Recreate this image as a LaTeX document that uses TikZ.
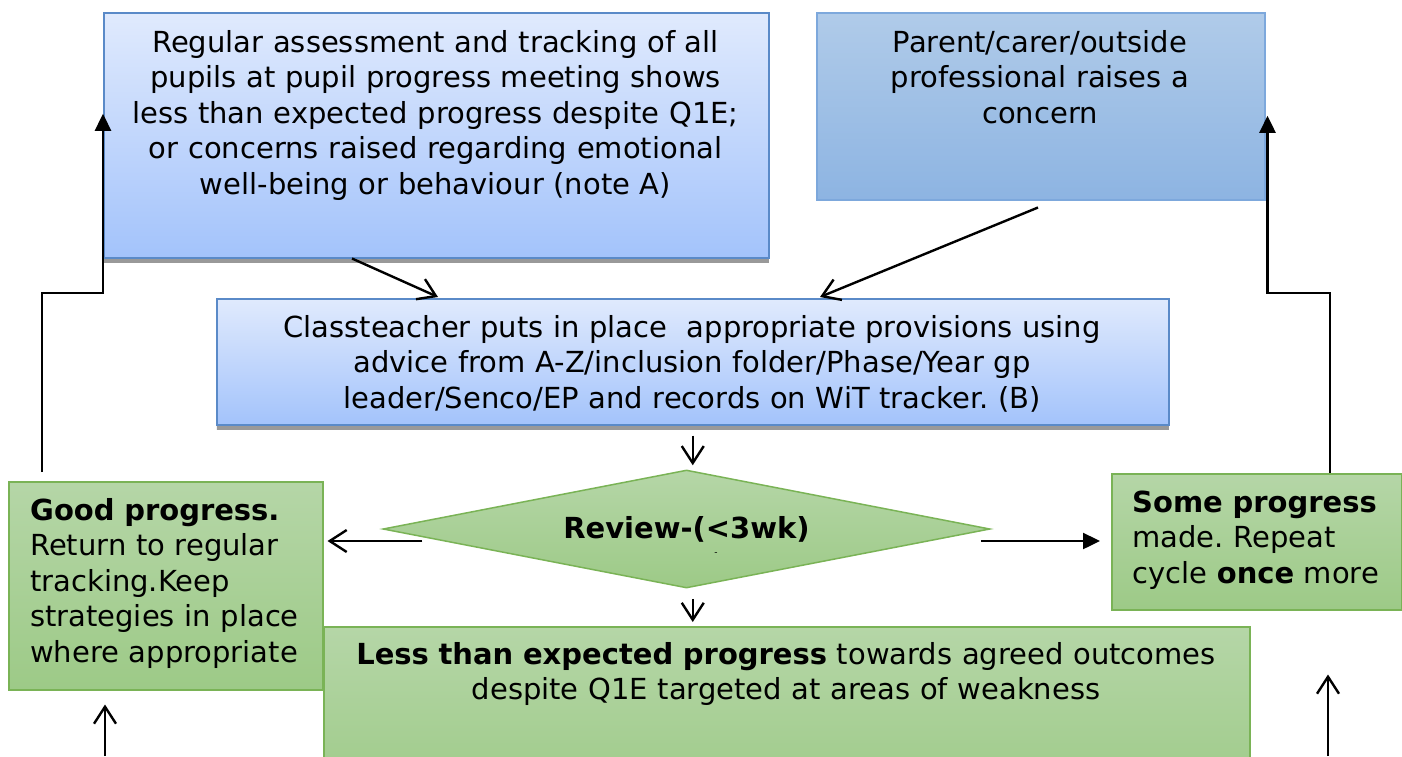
\documentclass[tikz,border=0pt]{standalone}
\usepackage{fontspec}
\setmainfont{DejaVu Sans}
\usetikzlibrary{shapes.geometric,arrows.meta}
\frenchspacing

\definecolor{blueTop}{HTML}{E0EAFD}
\definecolor{blueBot}{HTML}{A3C3FB}
\definecolor{blueLine}{HTML}{5A8AC8}
\definecolor{medTop}{HTML}{B0CBE9}
\definecolor{medBot}{HTML}{8DB4E2}
\definecolor{medLine}{HTML}{7DA8DC}
\definecolor{greenTop}{HTML}{B5D6A7}
\definecolor{greenBot}{HTML}{9DCA87}
\definecolor{greenLine}{HTML}{7AB356}
\definecolor{shadowGray}{HTML}{999999}

\begin{document}
\begin{tikzpicture}[x=1pt,y=-1pt,
  boxbase/.style={rectangle, inner sep=0pt, anchor=north west, line width=1.5pt},
  lightbox/.style={boxbase, draw=blueLine, top color=blueTop, bottom color=blueBot,
     preaction={draw=none, top color=shadowGray, bottom color=shadowGray, transform canvas={yshift=-5pt}}},
  medbox/.style={boxbase, draw=medLine, top color=medTop, bottom color=medBot},
  greenbox/.style={boxbase, draw=greenLine, top color=greenTop, bottom color=greenBot},
  txt/.style={font=\fontsize{29}{35.5}\selectfont, inner sep=0pt, text=black},
  ctxt/.style={txt, align=center, anchor=base},
  ltxt/.style={txt, align=left, anchor=base west},
  conn/.style={line width=2.4pt, draw=black},
  openarr/.style={conn, -{Straight Barb[length=17pt,width=22pt,line width=2.4pt]}},
  filledarr/.style={conn, -{Triangle[length=17pt,width=16pt]}}
]
\useasboundingbox (0,0) rectangle (1402,756);
\clip (0,0) rectangle (1402,756);

% boxes
\node[lightbox, minimum width=665pt, minimum height=245pt] (a) at (103,12) {};
\node[medbox, minimum width=448pt, minimum height=187pt] (b) at (816,12) {};
\node[lightbox, minimum width=952pt, minimum height=126pt] (c) at (216,298) {};
\node[greenbox, minimum width=314pt, minimum height=208pt] (g) at (8,481) {};
\node[greenbox, minimum width=290pt, minimum height=136pt] (s) at (1111,473) {};
\node[greenbox, minimum width=926pt, minimum height=180pt] (l) at (323,626) {};
\node[diamond, draw=greenLine, line width=1.5pt, top color=greenTop, bottom color=greenBot,
      minimum width=607pt, minimum height=118pt, aspect=5.14, inner sep=0pt,
      font=\fontsize{29}{35.5}\selectfont\bfseries] (d) at (686.5,529) {Review-(<3wk)};
\node[font=\fontsize{9}{9}\selectfont, inner sep=0pt] (dash) at (716,554) {-};

% texts
\node[ctxt, text width=700pt] (at) at (435.5,52) {Regular assessment and tracking of all\\
pupils at pupil progress meeting shows\\
less than expected progress despite Q1E;\\
or concerns raised regarding emotional\\
well-being or behaviour (note A)};

\node[ctxt, text width=440pt] (bt) at (1040,52) {Parent/carer/outside\\
professional raises a\\
concern};

\node[ctxt, text width=950pt] (ct) at (692,337) {Classteacher puts in place\ \ appropriate provisions using\\
advice from A-Z/inclusion folder/Phase/Year gp\\
leader/Senco/EP and records on WiT tracker. (B)};

\node[ltxt, text width=330pt] (gt) at (30,520) {\textbf{Good progress.}\\
Return to regular\\
tracking.Keep\\
strategies in place\\
where appropriate};

\node[ltxt, text width=280pt] (st) at (1132,512) {\textbf{Some progress}\\
made. Repeat\\
cycle \textbf{once} more};

\node[ctxt, text width=920pt] (lt) at (786,664) {\textbf{Less than expected progress} towards agreed outcomes\\
despite Q1E targeted at areas of weakness};

% connectors
\draw[openarr] ([xshift=249pt]a.south west) -- ([xshift=222pt,yshift=1pt]c.north west);
\draw[openarr] ([xshift=222pt,yshift=-7pt]b.south west) -- ([xshift=604pt,yshift=1pt]c.north west);
\draw[openarr] ([yshift=-10pt]c.south) -- ([yshift=4pt]c.south |- d.north);
\draw[openarr] ([yshift=-10pt]c.south |- d.south) -- ([yshift=4pt]c.south |- l.north);
\draw[openarr] ([xshift=40pt,yshift=-12pt]d.west) -- ([xshift=4pt,yshift=-12pt]d.west -| g.east);
\draw[filledarr] ([xshift=-10pt,yshift=-12pt]d.east) -- ([xshift=-11pt,yshift=-12pt]d.west -| s.west);

\draw[filledarr] ([xshift=34pt,yshift=9pt]g.north west) -- ++(0,-179) -| ([yshift=21.5pt]a.west);
\draw[filledarr] ([xshift=219pt]s.north west) -- ++(0,-180) -| ([xshift=2pt,yshift=-9.5pt]b.east);

\coordinate (lb) at (105,756);
\coordinate (rb) at (1328,756);
\draw[openarr] (lb) -- ([yshift=-14pt]g.south west -| lb);
\draw[openarr] (rb) -- ([yshift=-64pt]s.south west -| rb);
\end{tikzpicture}
\end{document}
